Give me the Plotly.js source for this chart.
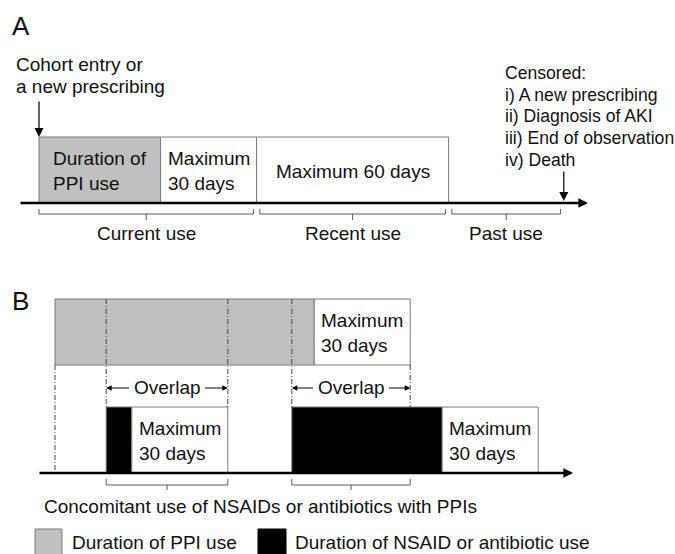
<!DOCTYPE html>
<html>
<head>
<meta charset="utf-8">
<script src="https://cdn.plot.ly/plotly-3.0.1.min.js"></script>
<style>
html, body { margin: 0; padding: 0; background: #ffffff; }
#chart { width: 675px; height: 554px; }
</style>
</head>
<body>
<div id="chart"></div>
<script>
// ---------- DATA (days) ----------
// Panel A: one PPI prescription and the exposure windows that follow it
const segA_labels = ['Duration of<br>PPI use', 'Maximum<br>30 days', 'Maximum 60 days'];
const segA_kind = ['ppi', 'max', 'max'];
const segA_start = [0, 38, 68];
const segA_days = [38, 30, 60];
const periodA_labels = ['Current use', 'Recent use', 'Past use'];
const periodA_start = [0, 68, 128];
const periodA_end = [68, 128, 164];
const censorDay = 164;
const entryLabels = ['Cohort entry or', 'a new prescribing'];
const censorLabels = ['Censored:', 'i) A new prescribing', 'ii) Diagnosis of AKI',
                      'iii) End of observation', 'iv) Death'];

// Panel B: PPI use with concomitant NSAID / antibiotic use
const ppiB_start = [5];
const ppiB_days = [81];
const nsaidB_start = [21, 79];
const nsaidB_days = [8, 47];
const graceDays = 30;
const graceLabel = 'Maximum<br>30 days';
const overlapLabel = 'Overlap';
const concomitantLabel = 'Concomitant use of NSAIDs or antibiotics with PPIs';
const legendLabels = ['Duration of PPI use', 'Duration of NSAID or antibiotic use'];
const panelLabels = ['A', 'B'];

// ---------- LAYOUT / STYLE ----------
const W = 675, H = 554;
const PX_PER_DAY = 3.2, ORIGIN_PX = 39;
const px2day = p => (p - ORIGIN_PX) / PX_PER_DAY;
const FONT = 'Liberation Sans, Arial, Helvetica, sans-serif';
const TXT = '#111111';
const FILL = { ppi: '#c0c0c0', max: '#ffffff', nsaid: '#000000' };
const EDGE = '#7a7a7a';
const BRK = '#5a5a5a';
const DASH = '5px,2px,1px,2px';

const BOX_H = 66;
const ROW_A = 170;      // centre of panel-A boxes (pixel units on the y axis)
const AXIS_A = 203;
const ROW_PPI = 332;
const ROW_NS = 440;
const AXIS_B = 473;

// ---------- TRACES ----------
const traces = [];
function barTrace(row, starts, lens, kinds) {
  return {
    type: 'bar', orientation: 'h',
    y: starts.map(() => row), base: starts, x: lens,
    width: starts.map(() => BOX_H),
    marker: { color: kinds.map(k => FILL[k]), line: { color: EDGE, width: 1 } },
    hoverinfo: 'skip', showlegend: false
  };
}
traces.push(barTrace(ROW_A, segA_start, segA_days, segA_kind));

const ppiEnd = ppiB_start[0] + ppiB_days[0];
const ppiGraceEnd = ppiEnd + graceDays;
traces.push(barTrace(ROW_PPI, [ppiB_start[0], ppiEnd], [ppiB_days[0], graceDays], ['ppi', 'max']));

const nsStarts = [], nsLens = [], nsKinds = [];
nsaidB_start.forEach((s, i) => {
  nsStarts.push(s, s + nsaidB_days[i]);
  nsLens.push(nsaidB_days[i], graceDays);
  nsKinds.push('nsaid', 'max');
});
traces.push(barTrace(ROW_NS, nsStarts, nsLens, nsKinds));

// ---------- SHAPES & ANNOTATIONS ----------
const shapes = [];
const ann = [];
function txt(x, y, text, opts) {
  return Object.assign({ x: x, y: y, xref: 'x', yref: 'y', text: text, showarrow: false,
    xanchor: 'left', yanchor: 'middle', align: 'left',
    font: { family: FONT, size: 19, color: TXT } }, opts || {});
}
function bracket(x0, x1, yTop, yBar, yTick) {
  const xc = (x0 + x1) / 2;
  shapes.push({ type: 'path', xref: 'x', yref: 'y',
    path: `M ${x0},${yTop} L ${x0},${yBar} L ${x1},${yBar} L ${x1},${yTop} M ${xc},${yBar} L ${xc},${yTick}`,
    line: { color: BRK, width: 1 } });
  return xc;
}
function arrow(x, y, ax, ay, w, size, refAxes) {
  const a = { x: x, y: y, xref: 'x', yref: 'y', ax: ax, ay: ay, text: '', showarrow: true,
    arrowhead: 2, arrowsize: size, arrowwidth: w, arrowcolor: '#000000', standoff: 0, startstandoff: 0 };
  if (refAxes) { a.axref = 'x'; a.ayref = 'y'; }
  return a;
}

// Panel labels
ann.push(txt(px2day(10), 26, panelLabels[0], { font: { family: FONT, size: 26, color: TXT } }));
ann.push(txt(px2day(10), 301, panelLabels[1], { font: { family: FONT, size: 26, color: TXT } }));

// Panel A texts in boxes
segA_labels.forEach((lab, i) => {
  ann.push(txt(segA_start[i] + segA_days[i] / 2, ROW_A + 1, lab, { xanchor: 'center' }));
});
// Cohort entry
entryLabels.forEach((lab, i) => ann.push(txt(px2day(14), 64 + i * 22.5, lab)));
ann.push(arrow(segA_start[0], ROW_A - BOX_H / 2, segA_start[0], 100, 1.2, 1.5, true));
// Censored
censorLabels.forEach((lab, i) => ann.push(txt(px2day(503), 73 + i * 21.7, lab,
  { font: { family: FONT, size: 17.6, color: TXT } })));
ann.push(arrow(censorDay, AXIS_A - 2, censorDay, 170, 1.2, 1.5, true));
// Axis A
ann.push(arrow(px2day(588), AXIS_A, px2day(19), AXIS_A, 2.4, 0.8, true));
// Period brackets A
periodA_labels.forEach((lab, i) => {
  const x0 = periodA_start[i] + (i > 0 ? 1 : 0);
  const x1 = periodA_end[i] - 1;
  const xc = bracket(x0, x1, 209, 214, 220);
  ann.push(txt(xc, 233, lab, { xanchor: 'center' }));
});

// Panel B
ann.push(txt(ppiEnd + graceDays / 2, ROW_PPI + 1, graceLabel, { xanchor: 'center' }));
nsaidB_start.forEach((s, i) => {
  const e = s + nsaidB_days[i];
  ann.push(txt(e + graceDays / 2, ROW_NS + 1, graceLabel, { xanchor: 'center' }));
});
// dashed line at PPI start (from PPI bar to axis)
const topPPI = ROW_PPI - BOX_H / 2, botPPI = ROW_PPI + BOX_H / 2, topNS = ROW_NS - BOX_H / 2;
shapes.push({ type: 'line', xref: 'x', yref: 'y', x0: ppiB_start[0], x1: ppiB_start[0],
  y0: botPPI, y1: AXIS_B, line: { color: '#444', width: 1, dash: DASH } });
// overlaps
nsaidB_start.forEach((s, i) => {
  const e = s + nsaidB_days[i] + graceDays;
  const o0 = Math.max(s, ppiB_start[0]);
  const o1 = Math.min(e, ppiGraceEnd);
  [o0, o1].forEach(xv => {
    const y0 = (xv === ppiGraceEnd) ? botPPI : topPPI;
    shapes.push({ type: 'line', xref: 'x', yref: 'y', x0: xv, x1: xv, y0: y0, y1: topNS,
      line: { color: '#444', width: 1, dash: DASH } });
  });
  const span = (o1 - o0) * PX_PER_DAY;
  const L = Math.max(10, (span - 67) / 2 - 3);
  ann.push(txt((o0 + o1) / 2, 387, overlapLabel, { xanchor: 'center' }));
  ann.push(arrow(o0, 388, L, 0, 1, 1.1, false));
  ann.push(arrow(o1, 388, -L, 0, 1, 1.1, false));
  bracket(o0, o1, 479, 485, 490);
});
// Axis B
ann.push(arrow(px2day(573), AXIS_B, px2day(38), AXIS_B, 2.4, 0.8, true));
ann.push(txt(px2day(42), 506, concomitantLabel));

// Legend
shapes.push({ type: 'rect', xref: 'x', yref: 'y', x0: px2day(35), x1: px2day(62), y0: 529, y1: 558,
  fillcolor: FILL.ppi, line: { color: EDGE, width: 1 } });
shapes.push({ type: 'rect', xref: 'x', yref: 'y', x0: px2day(258), x1: px2day(286), y0: 529, y1: 558,
  fillcolor: FILL.nsaid, line: { color: '#000', width: 1 } });
ann.push(txt(px2day(70), 542, legendLabels[0]));
ann.push(txt(px2day(293), 542, legendLabels[1]));

const layout = {
  width: W, height: H,
  margin: { l: 0, r: 0, t: 0, b: 0, pad: 0 },
  paper_bgcolor: '#ffffff', plot_bgcolor: '#ffffff',
  xaxis: { range: [px2day(0), px2day(W)], visible: false, fixedrange: true },
  yaxis: { range: [H, 0], visible: false, fixedrange: true },
  barmode: 'overlay', showlegend: false, hovermode: false,
  font: { family: FONT, size: 19, color: TXT },
  shapes: shapes, annotations: ann
};

Plotly.newPlot('chart', traces, layout, { staticPlot: true, displayModeBar: false });
</script>
</body>
</html>
